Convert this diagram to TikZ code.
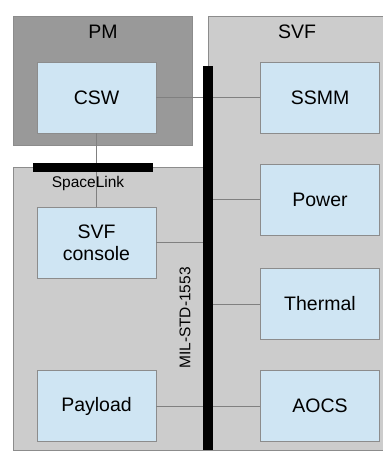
\documentclass[tikz,border=0pt]{standalone}
\usepackage{fontspec}
\setmainfont{Liberation Sans}
\usepackage{xcolor}
\usetikzlibrary{positioning, calc}

\definecolor{pmgray}{HTML}{999999}
\definecolor{svfgray}{HTML}{CCCCCC}
\definecolor{unitblue}{HTML}{CFE5F3}
\definecolor{edgegray}{HTML}{8C8C8C}

\begin{document}
\begin{tikzpicture}[
  x=1pt, y=-1pt,
  font=\fontsize{19.5}{22}\selectfont,
  area/.style={draw=edgegray, fill=svfgray, line width=0.8pt},
  pm/.style={draw=edgegray, fill=pmgray, line width=0.8pt},
  unit/.style={draw=edgegray, fill=unitblue, line width=0.8pt, align=center,
               minimum width=119pt, minimum height=71pt, inner sep=0pt},
  bus/.style={fill=black, inner sep=0pt},
  small/.style={font=\fontsize{15.5}{18}\selectfont, inner sep=0pt},
  wire/.style={draw=gray, line width=0.8pt}
]
\useasboundingbox (0,0) rectangle (383,451);
% background areas
\draw[area] (13,167) rectangle (208,450);
\draw[area] (208,16) rectangle (384,450);
\draw[pm] (13,16) rectangle (192,145);
\node (pmlbl) at (103,32) {PM};
\node (svflbl) at (297,32) {SVF};
% units
\node[unit] (csw)     at (96.5,97.5) {CSW};
\node[unit] (console) at (96.5,242.5) {SVF\\console};
\node[unit] (payload) at (96.5,406) {Payload};
\node[unit] (ssmm)    at (320,97.5) {SSMM};
\node[unit] (power)   at (320,199.5) {Power};
\node[unit] (thermal) at (320,304) {Thermal};
\node[unit] (aocs)    at (320,406) {AOCS};
% wires
\coordinate (bustop) at (208,66);
\draw[wire] (csw) -- (ssmm);
\draw[wire] (csw) -- (console);
\draw[wire] (console.east) -- (console.east -| bustop);
\draw[wire] (bustop |- power.west) -- (power.west);
\draw[wire] (bustop |- thermal.west) -- (thermal.west);
\draw[wire] (payload) -- (aocs);
% buses
\node[bus, minimum width=10pt, minimum height=384pt, below=0pt of bustop] (mil) {};
\node[bus, minimum width=120pt, minimum height=9pt] (link) at (93,167.5) {};
\node[small] (linklbl) at (88,183) {SpaceLink};
\node[small, rotate=90] (millbl) at (185,318) {MIL-STD-1553};
\end{tikzpicture}
\end{document}
